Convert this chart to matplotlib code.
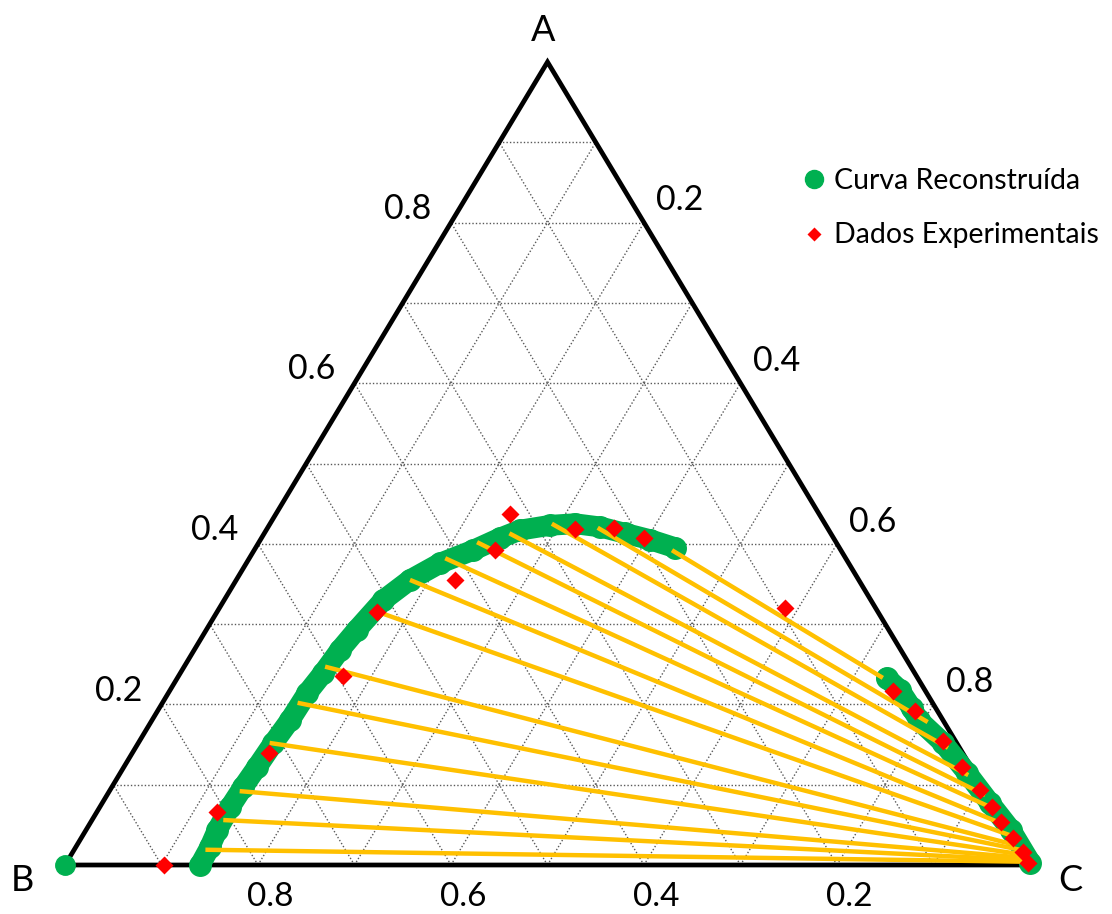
import numpy as np
import matplotlib.pyplot as plt
from matplotlib.lines import Line2D

plt.rcParams['font.family'] = ['Lato', 'DejaVu Sans']

# frações mássicas (A, C); B = 1 - A - C
# curva reconstruída - ramo rico em B
curva_b_A = [0.000, 0.022, 0.044, 0.072, 0.097, 0.122, 0.152, 0.181, 0.214, 0.239,
             0.268, 0.293, 0.330, 0.355, 0.376, 0.392, 0.407, 0.417, 0.423, 0.425,
             0.421, 0.413, 0.405, 0.395]
curva_b_C = [0.140, 0.139, 0.136, 0.135, 0.136, 0.138, 0.140, 0.143, 0.144, 0.148,
             0.151, 0.156, 0.165, 0.180, 0.201, 0.227, 0.247, 0.263, 0.291, 0.316,
             0.344, 0.374, 0.404, 0.435]
# curva reconstruída - ramo rico em C
curva_c_A = [0.233, 0.218, 0.195, 0.180, 0.152, 0.115, 0.077, 0.044, 0.003]
curva_c_C = [0.735, 0.756, 0.780, 0.795, 0.834, 0.877, 0.920, 0.958, 0.999]
# vértice B puro
puro_A = [0.0]
puro_C = [0.0]

# dados experimentais
exp_A = [0.000, 0.066, 0.140, 0.235, 0.315, 0.355, 0.392, 0.437, 0.418, 0.420,
         0.407, 0.320, 0.217, 0.192, 0.154, 0.122, 0.093, 0.072, 0.054, 0.034,
         0.016, 0.002]
exp_C = [0.103, 0.125, 0.141, 0.171, 0.166, 0.227, 0.250, 0.243, 0.319, 0.359,
         0.397, 0.586, 0.750, 0.785, 0.833, 0.869, 0.902, 0.925, 0.943, 0.965,
         0.985, 0.997]

# linhas de amarração (extremo fase B, extremo fase C)
tie_b_A = [0.392, 0.420, 0.425, 0.413, 0.402, 0.382, 0.355, 0.314, 0.247, 0.202,
           0.152, 0.092, 0.056, 0.019]
tie_b_C = [0.433, 0.342, 0.292, 0.254, 0.226, 0.203, 0.180, 0.170, 0.146, 0.140,
           0.136, 0.135, 0.136, 0.136]
tie_c_A = [0.233, 0.178, 0.146, 0.112, 0.087, 0.069, 0.050, 0.037, 0.025, 0.019,
           0.013, 0.009, 0.006, 0.004]
tie_c_C = [0.731, 0.805, 0.842, 0.880, 0.910, 0.930, 0.949, 0.961, 0.972, 0.980,
           0.986, 0.990, 0.995, 0.998]

ticks = [0.2, 0.4, 0.6, 0.8]
tick_labels = ['0.2', '0.4', '0.6', '0.8']

VERDE = '#00B050'
VERMELHO = '#FF0000'
LARANJA = '#FFC000'


def xy(a, c):
    a = np.asarray(a, dtype=float)
    c = np.asarray(c, dtype=float)
    return c + a / 2.0, a


fig = plt.figure(figsize=(11.12, 9.14), dpi=100)
ax = fig.add_axes([65 / 1112, 49 / 914, 965 / 1112, 803 / 914])
ax.set_xlim(0, 1)
ax.set_ylim(0, 1)
ax.axis('off')

# grade pontilhada
grade = dict(color='#595959', lw=1.0, ls=(0, (1, 1.5)), zorder=1)
for v in np.arange(1, 10) / 10:
    ax.plot(*xy([v, v], [0, 1 - v]), **grade)          # A constante
    ax.plot(*xy([0, 1 - v], [v, v]), **grade)          # C constante
    ax.plot(*xy([0, 1 - v], [1 - v, 0]), **grade)      # B constante

# contorno do triângulo
ax.plot(*xy([0, 1, 0, 0], [0, 0, 1, 0]), color='black', lw=3.4, zorder=2,
        solid_joinstyle='miter', clip_on=False)

# curva reconstruída
kw_curva = dict(color=VERDE, marker='o', ms=15.5, lw=15, solid_capstyle='round',
                zorder=3, clip_on=False)
ax.plot(*xy(curva_b_A, curva_b_C), **kw_curva)
ax.plot(*xy(curva_c_A, curva_c_C), **kw_curva)
ax.plot(*xy(puro_A, puro_C), ls='none', color=VERDE, marker='o', ms=14,
        zorder=3, clip_on=False)

# linhas de amarração
for ab, cb, ac, cc in zip(tie_b_A, tie_b_C, tie_c_A, tie_c_C):
    ax.plot(*xy([ab, ac], [cb, cc]), color=LARANJA, lw=3.2, zorder=4,
            solid_capstyle='butt', clip_on=False)

# dados experimentais
ax.plot(*xy(exp_A, exp_C), ls='none', marker='D', ms=9, color=VERMELHO,
        mec='none', zorder=5, clip_on=False)

# rótulos dos eixos
fs_tick = 24.5
for v, lab in zip(ticks, tick_labels):
    ax.annotate(lab, xy(v, 0), xytext=(-31, 10), textcoords='offset points',
                ha='center', va='center', fontsize=fs_tick)
    ax.annotate(lab, xy(1 - v, v), xytext=(26, 16), textcoords='offset points',
                ha='center', va='center', fontsize=fs_tick)
    ax.annotate(lab, xy(0, 1 - v), xytext=(9, -23), textcoords='offset points',
                ha='center', va='center', fontsize=24)

fs_vert = 26
ax.annotate('A', xy(1, 0), xytext=(-3, 23), textcoords='offset points',
            ha='center', va='center', fontsize=fs_vert)
ax.annotate('B', xy(0, 0), xytext=(-31, -11), textcoords='offset points',
            ha='center', va='center', fontsize=fs_vert)
ax.annotate('C', xy(0, 1), xytext=(29, -11), textcoords='offset points',
            ha='center', va='center', fontsize=fs_vert)

# legenda
handles = [
    Line2D([], [], ls='none', marker='o', ms=13, color=VERDE),
    Line2D([], [], ls='none', marker='D', ms=7, color=VERMELHO, mec='none'),
]
fig.legend(handles, ['Curva Reconstruída', 'Dados Experimentais'],
           loc='upper left', bbox_to_anchor=(803 / 1112, 1 - 168 / 914),
           frameon=False, fontsize=20.5, handlelength=0.8, handletextpad=0.3,
           labelspacing=1.0, borderaxespad=0, borderpad=0)

fig.savefig('out.png', dpi=100)
